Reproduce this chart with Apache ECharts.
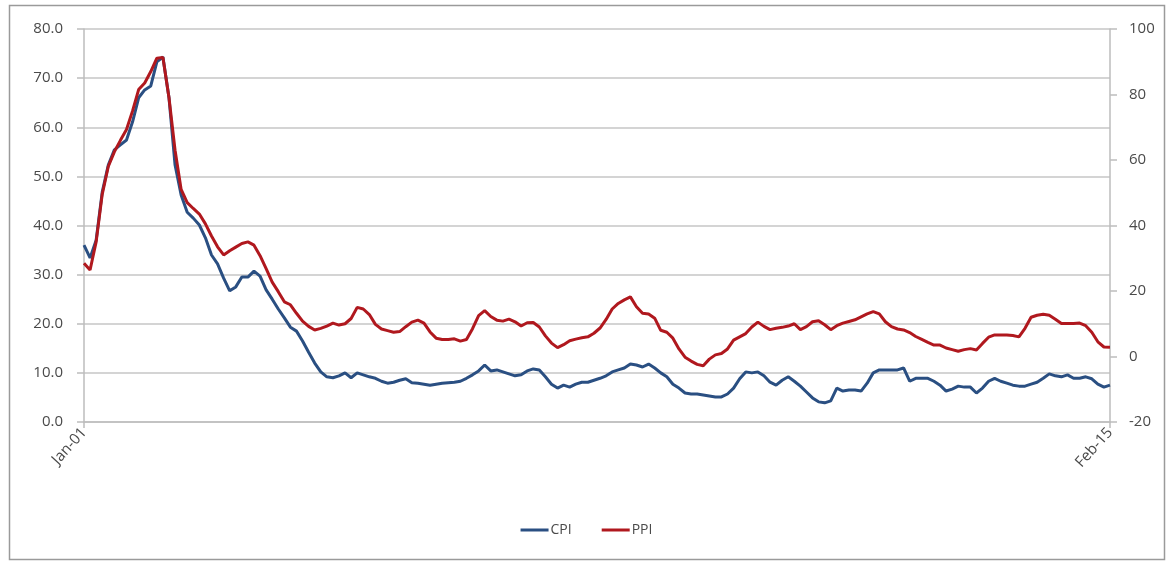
<!DOCTYPE html>
<html>
<head>
<meta charset="utf-8">
<script src="https://cdn.jsdelivr.net/npm/echarts@6/dist/echarts.min.js"></script>
<style>
  html, body { margin: 0; padding: 0; background: #ffffff; }
  #chart { width: 1173px; height: 564px; }
</style>
</head>
<body>
<div id="chart"></div>
<script>
// Monthly year-on-year inflation, Jan 2001 – Feb 2015
const MONTHS = ['Jan','Feb','Mar','Apr','May','Jun','Jul','Aug','Sep','Oct','Nov','Dec'];
const startYear = 2001;
const pointCount = 170;

// CPI, % (left axis)
const cpi = [
  36.0, 33.4, 37.0, 46.8, 52.3, 55.4, 56.4, 57.4, 61.1, 66.0,
  67.6, 68.4, 73.3, 74.3, 66.0, 52.3, 46.2, 42.7, 41.5, 40.1,
  37.5, 34.0, 32.2, 29.3, 26.7, 27.5, 29.5, 29.5, 30.7, 29.7,
  26.9, 25.0, 23.0, 21.2, 19.3, 18.5, 16.5, 14.2, 12.0, 10.2,
  9.2, 9.0, 9.4, 10.0, 9.0, 10.0, 9.6, 9.2, 8.9, 8.3,
  7.9, 8.1, 8.5, 8.8, 8.0, 7.9, 7.7, 7.5, 7.7, 7.9,
  8.0, 8.1, 8.3, 8.9, 9.6, 10.4, 11.6, 10.4, 10.6, 10.2,
  9.8, 9.4, 9.6, 10.4, 10.8, 10.6, 9.2, 7.7, 6.9, 7.5,
  7.1, 7.7, 8.1, 8.1, 8.5, 8.9, 9.4, 10.2, 10.6, 11.0,
  11.8, 11.6, 11.2, 11.8, 11.0, 10.0, 9.2, 7.7, 6.9, 5.9,
  5.7, 5.7, 5.5, 5.3, 5.1, 5.1, 5.7, 6.9, 8.8, 10.2,
  10.0, 10.2, 9.4, 8.1, 7.5, 8.5, 9.2, 8.3, 7.3, 6.1,
  4.9, 4.1, 3.9, 4.3, 6.9, 6.3, 6.5, 6.5, 6.3, 7.9,
  10.0, 10.6, 10.6, 10.6, 10.6, 11.0, 8.3, 8.9, 8.9, 8.9,
  8.3, 7.5, 6.3, 6.7, 7.3, 7.1, 7.1, 5.9, 6.9, 8.3,
  8.9, 8.3, 7.9, 7.5, 7.3, 7.3, 7.7, 8.1, 8.9, 9.8,
  9.4, 9.2, 9.6, 8.9, 8.9, 9.2, 8.8, 7.7, 7.1, 7.5
];

// PPI, % (right axis)
const ppi = [
  28.5, 26.4, 35.0, 49.5, 58.0, 62.5, 66.0, 69.3, 75.0, 81.5,
  83.5, 87.0, 91.1, 91.3, 79.0, 63.0, 51.0, 47.0, 45.2, 43.5,
  40.5, 36.8, 33.5, 31.0, 32.3, 33.4, 34.5, 35.0, 34.0, 30.8,
  26.8, 22.7, 19.8, 16.7, 15.8, 13.2, 10.8, 9.2, 8.1, 8.6,
  9.3, 10.2, 9.6, 10.0, 11.6, 15.0, 14.5, 12.8, 9.8, 8.4,
  7.9, 7.4, 7.6, 9.1, 10.5, 11.1, 10.2, 7.5, 5.6, 5.2,
  5.2, 5.4, 4.7, 5.2, 8.5, 12.5, 14.0, 12.2, 11.1, 10.8,
  11.4, 10.6, 9.3, 10.3, 10.4, 9.0, 6.3, 4.1, 2.7, 3.6,
  4.8, 5.3, 5.7, 6.0, 7.1, 8.7, 11.3, 14.5, 16.2, 17.3,
  18.2, 15.2, 13.2, 13.0, 11.7, 8.0, 7.4, 5.6, 2.3, -0.2,
  -1.4, -2.4, -2.8, -0.8, 0.5, 0.9, 2.3, 5.0, 6.0, 7.0,
  9.0, 10.5, 9.2, 8.2, 8.6, 8.9, 9.3, 10.0, 8.2, 9.1,
  10.6, 10.9, 9.7, 8.2, 9.4, 10.2, 10.7, 11.2, 12.1, 13.0,
  13.7, 13.0, 10.6, 9.1, 8.4, 8.1, 7.3, 6.1, 5.2, 4.3,
  3.5, 3.5, 2.6, 2.1, 1.6, 2.1, 2.4, 2.0, 4.0, 5.9,
  6.6, 6.6, 6.6, 6.4, 6.0, 8.6, 12.0, 12.6, 12.9, 12.6,
  11.4, 10.1, 10.1, 10.1, 10.2, 9.4, 7.4, 4.5, 2.9, 2.8
];

// Category labels such as "Jan-01" … "Feb-15"
const months = [];
for (let i = 0; i < pointCount; i++) {
  const y = startYear + Math.floor(i / 12);
  months.push(MONTHS[i % 12] + '-' + String(y % 100).padStart(2, '0'));
}

const leftTicks = { min: 0, max: 80, interval: 10 };
const rightTicks = { min: -20, max: 100, interval: 20 };

const FONT = '"Open Sans", Lato, sans-serif';
const TEXT = '#4a4a4a';
const AXIS = '#bdbdbd';
const GRID = '#c6c6c6';
const CPI_COLOR = '#2a4f82';
const PPI_COLOR = '#b0181e';

const edgeOnly = (idx) => idx === 0 || idx === pointCount - 1;

const chart = echarts.init(document.getElementById('chart'), null, { renderer: 'canvas' });

chart.setOption({
  animation: false,
  backgroundColor: '#ffffff',
  textStyle: { fontFamily: FONT },
  graphic: [{
    type: 'rect',
    shape: { x: 9.5, y: 5.5, width: 1155, height: 554 },
    style: { fill: 'none', stroke: '#9a9a9a', lineWidth: 1.5 },
    silent: true,
    z: -10
  }],
  grid: { left: 84, right: 63, top: 29, bottom: 142, containLabel: false },
  legend: {
    bottom: 22,
    left: 'center',
    itemWidth: 28,
    itemHeight: 3,
    itemGap: 30,
    icon: 'rect',
    textStyle: { color: TEXT, fontSize: 14, fontFamily: FONT, padding: [0, 0, 0, -3] },
    data: ['CPI', 'PPI']
  },
  xAxis: {
    type: 'category',
    data: months,
    boundaryGap: false,
    axisLine: { show: true, lineStyle: { color: AXIS, width: 1.5 } },
    axisTick: { show: true, interval: edgeOnly, length: 6, lineStyle: { color: AXIS, width: 1.5 } },
    axisLabel: {
      interval: edgeOnly,
      rotate: 48,
      margin: 8,
      color: TEXT,
      fontSize: 15,
      fontFamily: FONT
    },
    splitLine: { show: false }
  },
  yAxis: [{
    type: 'value',
    position: 'left',
    min: leftTicks.min,
    max: leftTicks.max,
    interval: leftTicks.interval,
    axisLine: { show: true, lineStyle: { color: AXIS, width: 1.5 } },
    axisTick: { show: true, length: 7, lineStyle: { color: AXIS, width: 1.5 } },
    axisLabel: {
      margin: 21,
      color: TEXT,
      fontSize: 15,
      fontFamily: FONT,
      formatter: (v) => v.toFixed(1)
    },
    splitLine: { show: true, lineStyle: { color: GRID, width: 1.5 } }
  }, {
    type: 'value',
    position: 'right',
    min: rightTicks.min,
    max: rightTicks.max,
    interval: rightTicks.interval,
    axisLine: { show: true, lineStyle: { color: AXIS, width: 1.5 } },
    axisTick: { show: true, length: 7, lineStyle: { color: AXIS, width: 1.5 } },
    axisLabel: {
      margin: 19,
      color: TEXT,
      fontSize: 15,
      fontFamily: FONT
    },
    splitLine: { show: false }
  }],
  series: [{
    name: 'CPI',
    type: 'line',
    yAxisIndex: 0,
    data: cpi,
    showSymbol: false,
    symbol: 'none',
    lineStyle: { color: CPI_COLOR, width: 3 },
    itemStyle: { color: CPI_COLOR },
    z: 2
  }, {
    name: 'PPI',
    type: 'line',
    yAxisIndex: 1,
    data: ppi,
    showSymbol: false,
    symbol: 'none',
    lineStyle: { color: PPI_COLOR, width: 3 },
    itemStyle: { color: PPI_COLOR },
    z: 3
  }]
});
</script>
</body>
</html>
